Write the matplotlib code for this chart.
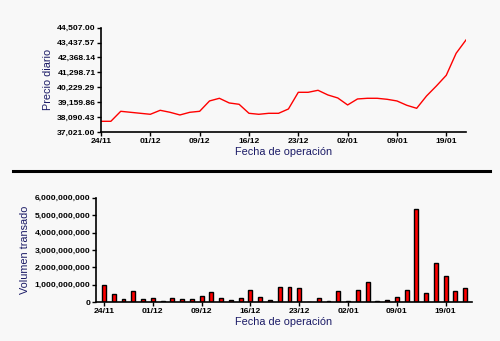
import matplotlib
matplotlib.use("Agg")
import matplotlib.pyplot as plt
import numpy as np
from matplotlib.lines import Line2D
from matplotlib.ticker import FuncFormatter

plt.rcParams["font.family"] = ["Liberation Sans", "DejaVu Sans"]

# fechas de operación (días hábiles), etiqueta cada 5 días
tick_labels = ["24/11", "01/12", "09/12", "16/12", "23/12", "02/01", "09/01", "19/01"]

precio = [37786, 37786, 38504, 38432, 38360, 38289, 38576, 38432, 38241, 38432,
          38504, 39246, 39437, 39102, 39006, 38360, 38289, 38360, 38360, 38671,
          39867, 39867, 40011, 39676, 39461, 38959, 39389, 39437, 39437, 39365,
          39246, 38935, 38719, 39604, 40322, 41087, 42666, 43623]

volumen = [0.98, 0.44, 0.17, 0.63, 0.17, 0.23, 0.06, 0.23, 0.17, 0.17,
           0.34, 0.56, 0.23, 0.11, 0.23, 0.69, 0.29, 0.11, 0.86, 0.86,
           0.80, 0.0, 0.23, 0.06, 0.63, 0.06, 0.69, 1.13, 0.06, 0.11,
           0.29, 0.69, 5.34, 0.52, 2.24, 1.49, 0.63, 0.80]
volumen = [v * 1e9 for v in volumen]

y_min, y_max = 37021.00, 44507.00

bg = "#f8f8f8"
azul = "#1a1a66"
x = np.arange(len(precio))
ticks_x = np.arange(0, len(precio), 5)

fig = plt.figure(figsize=(5, 3.41), dpi=100, facecolor=bg)

# --- precio diario ---
ax1 = fig.add_axes([0.202, 0.613, 0.730, 0.306], facecolor=bg)
ax1.plot(x, precio, color="red", lw=1)
ax1.set_xlim(0, len(precio) - 1)
ax1.set_ylim(y_min, y_max)
ax1.set_yticks(np.linspace(y_min, y_max, 8))
ax1.yaxis.set_major_formatter(FuncFormatter(lambda v, p: f"{v:,.2f}"))
ax1.set_xticks(ticks_x)
ax1.set_xticklabels(tick_labels)
ax1.set_ylabel("Precio diario", color=azul, fontsize=7.8, labelpad=3)
ax1.set_xlabel("Fecha de operación", color=azul, fontsize=7.8, labelpad=2)

# --- volumen transado ---
ax2 = fig.add_axes([0.192, 0.114, 0.752, 0.306], facecolor=bg)
ax2.bar(x, volumen, width=0.4, color="red", edgecolor="black", linewidth=1)
ax2.set_xlim(-0.82, len(volumen) - 0.3)
ax2.set_ylim(0, 6e9)
ax2.set_yticks(np.arange(0, 6.1e9, 1e9))
ax2.yaxis.set_major_formatter(FuncFormatter(lambda v, p: f"{v:,.0f}"))
ax2.set_xticks(ticks_x)
ax2.set_xticklabels(tick_labels)
ax2.set_ylabel("Volumen transado", color=azul, fontsize=7.8, labelpad=3)
ax2.set_xlabel("Fecha de operación", color=azul, fontsize=7.8, labelpad=2)

for ax in (ax1, ax2):
    ax.spines["top"].set_visible(False)
    ax.spines["right"].set_visible(False)
    ax.spines["left"].set_linewidth(1.2)
    ax.spines["bottom"].set_linewidth(1.2)
    ax.tick_params(length=3, width=1, labelsize=6.1, pad=1, colors="black")
    for lab in ax.get_xticklabels() + ax.get_yticklabels():
        lab.set_fontweight("bold")

# línea separadora
fig.add_artist(Line2D([0.026, 0.98], [0.5, 0.5], color="black", lw=2.2,
                      transform=fig.transFigure))

fig.savefig("out.png", dpi=100, facecolor=bg)
